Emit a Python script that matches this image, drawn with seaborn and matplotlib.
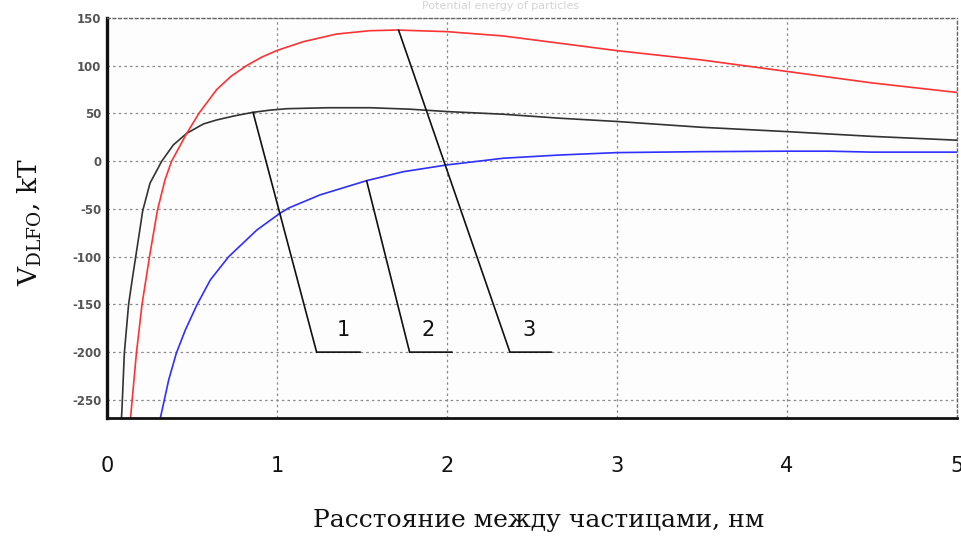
import matplotlib
matplotlib.use("Agg")
import matplotlib.pyplot as plt
import seaborn as sns
import pandas as pd
import numpy as np

# ---- data ----
black_x = [0.085, 0.088, 0.102, 0.127, 0.15, 0.175, 0.21, 0.253, 0.322, 0.39, 0.469, 0.567, 0.645,
           0.75, 0.859, 0.96, 1.06, 1.3, 1.55, 1.78, 2.0, 2.33, 2.665, 3.0, 3.5, 4.0, 4.5, 5.0]
black_y = [-269, -260, -201, -150, -122, -93, -52, -23, 0, 17, 29.2, 39, 43.2,
           47.5, 51.2, 53.5, 55, 56, 56, 54.5, 52, 49.2, 45, 41.6, 35.5, 31, 26, 22]

red_x = [0.138, 0.141, 0.173, 0.206, 0.25, 0.296, 0.341, 0.38, 0.469, 0.52, 0.54, 0.645,
         0.73, 0.82, 0.91, 1.0, 1.155, 1.35, 1.547, 1.704, 2.0, 2.33, 2.665, 3.0, 3.5, 4.0,
         4.5, 5.0]
red_y = [-269, -264, -201, -150, -100, -52, -19.6, 0, 29.2, 44, 50, 75,
         89, 100, 109, 116, 125.2, 133.2, 136.7, 137.4, 135.7, 131.2, 123.5, 115.8, 106, 94,
         82, 72]

blue_x = [0.314, 0.32, 0.363, 0.408, 0.461, 0.529, 0.608, 0.716, 0.882, 1.018, 1.069, 1.253,
          1.527, 1.743, 2.0, 2.331, 2.665, 3.0, 3.5, 4.0, 4.25, 4.5, 5.0]
blue_y = [-269, -264, -229, -201, -176.7, -150.5, -124.3, -100, -72, -54.5, -49, -35.3,
          -20.4, -11, -3.9, 3.1, 6.5, 9, 10, 10.5, 10.5, 9.5, 9.5]

# leader lines for the curve labels (data units)
lead_labels = ["1", "2", "3"]
lead_x = [[0.859, 1.233, 1.49], [1.527, 1.78, 2.03], [1.715, 2.37, 2.615]]
lead_y = [[51.2, -200, -200], [-20.4, -200, -200], [137.4, -200, -200]]
label_x = [1.39, 1.89, 2.48]
label_y = [-177, -177, -177]

x_ticks = [0, 1, 2, 3, 4, 5]
y_ticks = [-250, -200, -150, -100, -50, 0, 50, 100, 150]

xlabel = "Расстояние между частицами, нм"
ylabel = r"V$_{\mathrm{DLFO}}$, kT"
title = "Potential energy of particles"

# ---- figure ----
sns.set_theme(style="white")
plt.rcParams['font.family'] = ['DejaVu Sans']
plt.rcParams['axes.unicode_minus'] = False
plt.rcParams['mathtext.fontset'] = 'dejavuserif'

fig = plt.figure(figsize=(9.62, 5.41), dpi=100)
ax = fig.add_axes([107/962, 1 - 418/541, (957-107)/962, (418-18)/541])
ax.set_facecolor("#fdfdfd")

df = pd.concat([
    pd.DataFrame({"x": black_x, "y": black_y, "s": "black"}),
    pd.DataFrame({"x": red_x, "y": red_y, "s": "red"}),
    pd.DataFrame({"x": blue_x, "y": blue_y, "s": "blue"}),
])
for s, col in [("blue", "#2f2fff"), ("black", "#333333"), ("red", "#ff3333")]:
    sns.lineplot(data=df[df.s == s], x="x", y="y", sort=False, estimator=None,
                 color=col, lw=1.2, ax=ax, legend=False)

for lx, ly in zip(lead_x, lead_y):
    ax.plot(lx, ly, color="#111111", lw=1.2, solid_joinstyle="miter")
for t, tx, ty in zip(lead_labels, label_x, label_y):
    ax.text(tx, ty, t, ha="center", va="center", fontsize=15, color="#111111",
            family="DejaVu Sans")

ax.set_xlim(0, 5)
ax.set_ylim(-269, 150)
ax.set_xticks(x_ticks)
ax.set_yticks(y_ticks)
ax.set_xticks(np.arange(0, 5.01, 0.25), minor=True)
ax.grid(True, which="major", color="#8a8a8a", linestyle=(0, (2, 2.5)), lw=0.9)

ax.set_xlabel("")
ax.set_ylabel("")
ax.tick_params(axis="x", which="major", length=0, pad=27, labelsize=15, labelcolor="#111111")
ax.tick_params(axis="x", which="minor", length=2, width=0.8, color="#777777", direction="out")
ax.tick_params(axis="y", which="major", length=3, width=0.8, color="#555555", pad=1,
               labelsize=8.5, labelcolor="#555555")
for lab in ax.get_yticklabels():
    lab.set_fontweight("bold")

ax.spines["left"].set_linewidth(2.4)
ax.spines["left"].set_color("#111111")
ax.spines["bottom"].set_linewidth(2.0)
ax.spines["bottom"].set_color("#111111")
for sp in ("top", "right"):
    ax.spines[sp].set_color("#666666")
    ax.spines[sp].set_linewidth(1.0)
    ax.spines[sp].set_linestyle((0, (2, 2)))

fig.text(0.56, 1 - 520/541, xlabel, ha="center", va="center", fontsize=18,
         family="DejaVu Serif", color="#111111")
fig.text(30/962, 1 - 222/541, ylabel, ha="center", va="center", rotation=90,
         fontsize=19, family="DejaVu Serif", color="#111111")
fig.text(0.52, 1 - 6/541, title, ha="center", va="center", fontsize=8, color="#d4d4d4")

fig.savefig("out.png", dpi=100, facecolor="white")
